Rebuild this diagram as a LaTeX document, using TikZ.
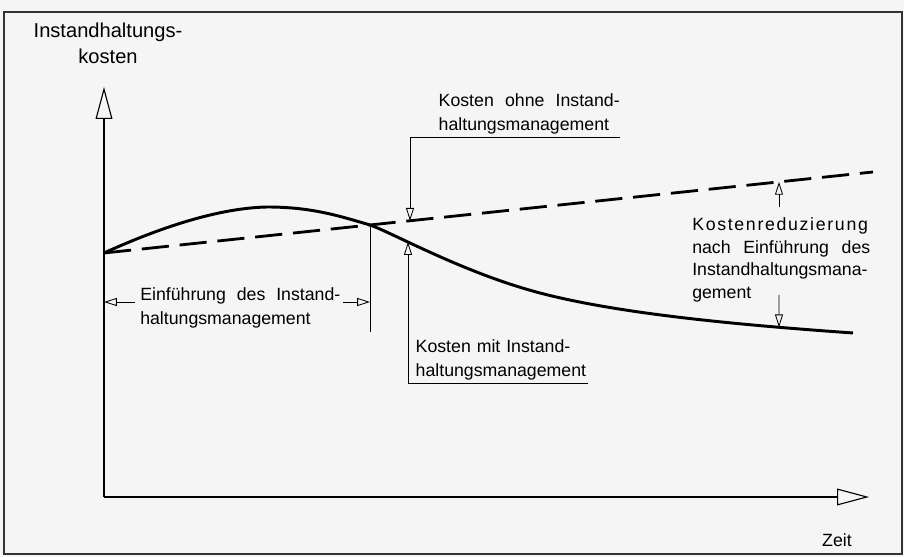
\documentclass[tikz,border=0pt]{standalone}
\usepackage{fontspec}
\setmainfont{Liberation Sans}
\newfontfamily\spacedfont[LetterSpace=9.5]{Liberation Sans}
\usetikzlibrary{arrows.meta}
\usetikzlibrary{intersections}
\tikzset{axarrow/.style = {-{Triangle[open, length=0.8cm, width=0.42cm]}, line width=0.8pt}}
\tikzset{leader/.style = {-{Triangle[open, length=0.32cm, width=0.2cm]}, line width=0.6pt}}
\tikzset{lbl/.style = {inner sep=0, font=\fontsize{12.6}{17}\selectfont}}
\definecolor{paper}{rgb}{0.96, 0.96, 0.96}

\begin{document}
\begin{tikzpicture}
    \fill [paper] (0, 0) rectangle (22.6, 13.925);
    \draw [line width=1pt, black!80] (0.1, 0.075) rectangle (22.55, 13.625);

    % axes
    \coordinate (o) at (2.6, 1.5);
    \coordinate (ytip) at (2.6, 11.75);
    \coordinate (xtip) at (21.725, 1.5);
    \draw [axarrow] (o) -- (ytip);
    \draw [axarrow] (o) -- (xtip);
    \node [lbl, anchor=north, align=center, font=\fontsize{14.3}{18.5}\selectfont] (ylabel) at (2.7, 13.36) {Instandhaltungs-\\kosten};
    \node [lbl] (xlabel) at (20.925, 0.425) {Zeit};

    % cost curves
    \coordinate (start) at (2.6, 7.6);
    \coordinate (peak) at (6.675, 8.75);
    \coordinate (cross) at (9.25, 8.3);
    \coordinate (dashA) at (10.25, 8.406);
    \coordinate (dashB) at (19.475, 9.377);
    \coordinate (dashEnd) at (21.825, 9.625);
    \coordinate (solEnd) at (21.325, 5.6);
    \draw [line width=2pt, dash pattern=on 0.68cm off 0.27cm] (start) -- (dashEnd);
    \draw [name path=solid, line width=2.1pt] (start) .. controls (3.7, 8.1) and (5.3, 8.72) .. (peak)
      .. controls (7.8, 8.75) and (8.5, 8.52) .. (cross)
      .. controls (9.85, 8.086) and (11.6, 7.1) .. (13.5, 6.6)
      .. controls (15.5, 6.074) and (18.5, 5.8) .. (solEnd);
    \path [name path=vA] (10.2, 5) -- (10.2, 10);
    \path [name path=vB] (19.475, 4) -- (19.475, 10);
    \path [name intersections={of=solid and vA, by=solA}];
    \path [name intersections={of=solid and vB, by=solB}];

    % introduction span
    \node [lbl, anchor=north west, text width=5cm, align=justify] (einf) at (3.5, 6.75) {Einführung des Instand-\linebreak haltungsmanagement};
    \coordinate (einfEnd) at (9.25, 5.625);
    \coordinate (einfL) at (2.6, 6.375);
    \coordinate (einfLs) at (3.375, 6.375);
    \coordinate (einfR) at (9.25, 6.375);
    \coordinate (einfRs) at (8.575, 6.375);
    \draw [line width=0.6pt] (cross) -- (einfEnd);
    \draw [leader] (einfLs) -- (einfL);
    \draw [leader] (einfRs) -- (einfR);

    % labels of the two curves
    \node [lbl, anchor=south east, inner ysep=2pt, text width=4.525cm, align=justify] (ohne) at (15.5, 10.5) {Kosten ohne Instand-\linebreak haltungsmanagement};
    \draw [leader] (ohne.south east) -| (dashA);

    \node [lbl, anchor=south east, inner ysep=2pt, text width=4.3cm, align=left] (mit) at (14.7, 4.35) {Kosten mit Instand-\\haltungsmanagement};
    \draw [leader] (mit.south east) -| (solA);

    % reduction
    \node [lbl, anchor=north west, text width=4.45cm, align=justify, font=\fontsize{12.6}{16.3}\selectfont] (red) at (17.3, 8.5) {{\spacedfont Kostenreduzierung}\\nach Einführung des\linebreak Instandhaltungsmana-\linebreak gement};
    \coordinate (redUp) at (19.475, 8.75);
    \coordinate (redDown) at (19.475, 6.55);
    \draw [leader] (redUp) -- (dashB);
    \draw [leader] (redDown) -- (solB);
  \end{tikzpicture}
\end{document}
